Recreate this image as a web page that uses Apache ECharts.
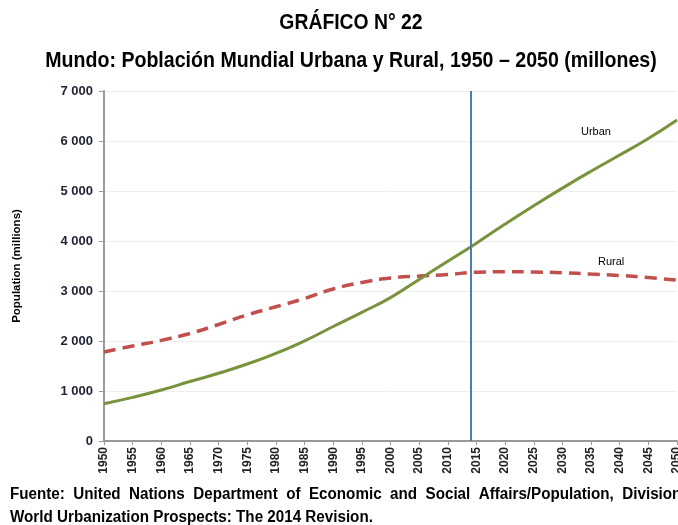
<!DOCTYPE html>
<html>
<head>
<meta charset="utf-8">
<script src="https://cdn.jsdelivr.net/npm/echarts@6/dist/echarts.min.js"></script>
<style>
  html, body { margin: 0; padding: 0; background: #fff; }
  #main { width: 678px; height: 525px; }
</style>
</head>
<body>
<div id="main"></div>
<script>
  // años cada 5
  var years = [1950, 1955, 1960, 1965, 1970, 1975, 1980, 1985, 1990, 1995, 2000,
    2005, 2010, 2015, 2020, 2025, 2030, 2035, 2040, 2045, 2050];
  var urban = [746, 872, 1019, 1189, 1354, 1540, 1752, 2003, 2290, 2573, 2868,
    3232, 3595, 3957, 4338, 4705, 5058, 5396, 5720, 6050, 6420];
  var rural = [1779, 1900, 2013, 2151, 2330, 2521, 2685, 2850, 3040, 3171, 3259,
    3300, 3330, 3375, 3385, 3380, 3365, 3339, 3310, 3270, 3215];
  var markYear = 2014;

  var font = "'Liberation Sans', Arial, sans-serif";

  function pairs(vals) {
    return years.map(function (y, i) { return [y, vals[i]]; });
  }

  var myChart = echarts.init(document.getElementById("main"));
  var option = {
    animation: false,
    grid: { left: 104, right: 1, top: 91, bottom: 84, outerBoundsMode: "none" },
    xAxis: {
      type: "value",
      min: 1950,
      max: 2050,
      interval: 5,
      axisLine: { lineStyle: { color: "#999", width: 2 } },
      axisTick: { show: true, length: 4, lineStyle: { color: "#999" } },
      splitLine: { show: false },
      axisLabel: {
        rotate: 90,
        margin: 6,
        fontSize: 12,
        fontWeight: "bold",
        color: "#222",
        fontFamily: font,
        formatter: function (v) { return String(v); },
      },
    },
    yAxis: {
      type: "value",
      min: 0,
      max: 7000,
      interval: 1000,
      name: "Population (millions)",
      nameLocation: "middle",
      nameGap: 81,
      nameTextStyle: { fontSize: 11.5, fontWeight: "bold", color: "#000", fontFamily: font },
      axisLine: { show: true, lineStyle: { color: "#999", width: 2 } },
      axisTick: { show: true, length: 5, lineStyle: { color: "#999" } },
      splitLine: { lineStyle: { color: "#eeeeee" } },
      axisLabel: {
        margin: 11,
        fontSize: 13,
        fontWeight: "bold",
        color: "#1e2233",
        fontFamily: font,
        formatter: function (v) {
          return v >= 1000 ? Math.floor(v / 1000) + " 000" : String(v);
        },
      },
    },
    series: [
      {
        name: "Rural",
        type: "line",
        data: pairs(rural),
        smooth: true,
        showSymbol: false,
        lineStyle: { color: "#c0504d", width: 3.5, type: [12, 7] },
        z: 2,
      },
      {
        name: "Urban",
        type: "line",
        data: pairs(urban),
        smooth: true,
        showSymbol: false,
        lineStyle: { color: "#77933c", width: 3 },
        z: 3,
        markLine: {
          silent: true,
          symbol: "none",
          label: { show: false },
          lineStyle: { color: "#4a7ebb", width: 2, type: "solid" },
          data: [{ xAxis: markYear }],
        },
      },
    ],
    graphic: [
      {
        type: "text",
        x: 351,
        y: 12,
        scaleX: 0.88,
        style: { text: "GRÁFICO N° 22", textAlign: "center", fontSize: 22, fontWeight: "bold", fill: "#000", fontFamily: font },
      },
      {
        type: "text",
        x: 351,
        y: 50,
        scaleX: 0.89,
        style: {
          text: "Mundo: Población Mundial Urbana y Rural, 1950 – 2050 (millones)",
          textAlign: "center", fontSize: 22, fontWeight: "bold", fill: "#000", fontFamily: font,
        },
      },
      {
        type: "text",
        x: 581,
        y: 126,
        style: { text: "Urban", fontSize: 11, fill: "#000", fontFamily: font },
      },
      {
        type: "text",
        x: 598,
        y: 256,
        style: { text: "Rural", fontSize: 11, fill: "#000", fontFamily: font },
      },
      {
        type: "text",
        x: 10,
        y: 487,
        scaleX: 0.95,
        style: {
          text: "Fuente:  United  Nations  Department  of  Economic  and  Social  Affairs/Population,  Division",
          fontSize: 16,
          fontWeight: "bold",
          fill: "#000",
          fontFamily: font,
        },
      },
      {
        type: "text",
        x: 10,
        y: 510,
        scaleX: 0.95,
        style: {
          text: "World Urbanization Prospects: The 2014 Revision.",
          fontSize: 16,
          fontWeight: "bold",
          fill: "#000",
          fontFamily: font,
        },
      },
    ],
  };
  myChart.setOption(option);
</script>
</body>
</html>
